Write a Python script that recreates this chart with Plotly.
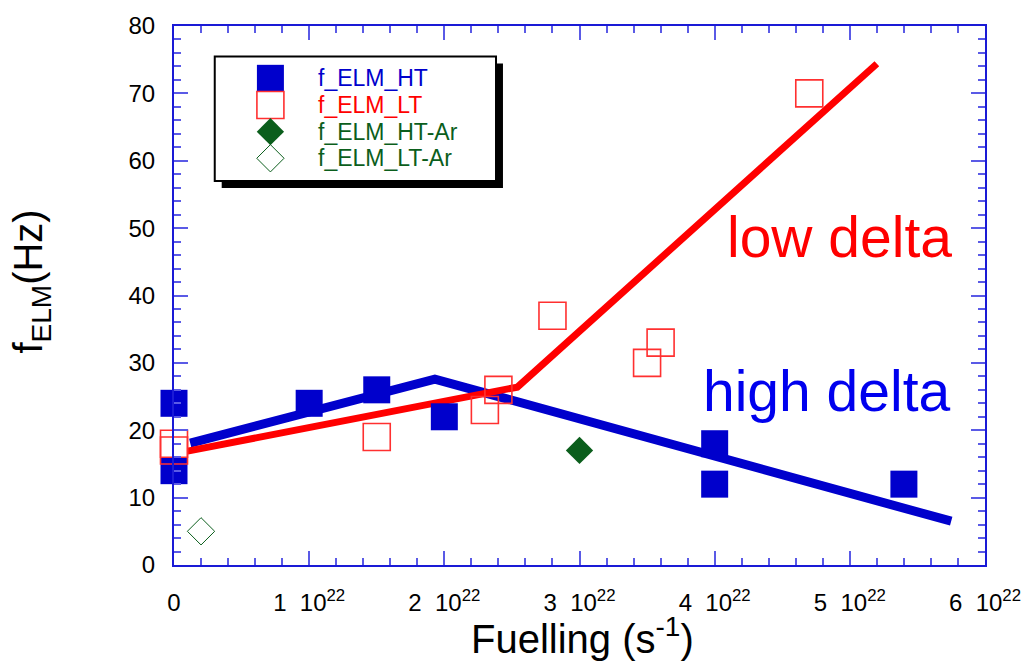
import plotly.graph_objects as go

# ELM frequency vs fuelling rate
ht_x = [0.0, 0.0, 1.0e22, 1.5e22, 2.0e22, 4.0e22, 4.0e22, 5.4e22]
ht_y = [24, 14, 24, 26, 22, 18, 12, 12]

lt_x = [0.0, 0.0, 1.5e22, 2.3e22, 2.4e22, 2.8e22, 3.5e22, 3.6e22, 4.7e22]
lt_y = [18, 17, 19, 23, 26, 37, 30, 33, 70]

ht_ar_x = [3.0e22]
ht_ar_y = [17]

lt_ar_x = [0.2e22]
lt_ar_y = [5]

# piecewise trend lines
fit_high_x = [0.12e22, 1.93e22, 5.75e22]
fit_high_y = [18.1, 27.6, 6.5]
fit_low_x = [0.1e22, 2.54e22, 5.2e22]
fit_low_y = [16.9, 26.4, 74.4]

x_tickvals = [0, 1e22, 2e22, 3e22, 4e22, 5e22, 6e22]
x_ticktext = ["0"] + [f"{k}\u00a0 10<sup>22</sup>" for k in range(1, 7)]

legend_names = ["f_ELM_HT", "f_ELM_LT", "f_ELM_HT-Ar", "f_ELM_LT-Ar"]

BLUE = "#0000cc"
RED = "#ff0000"
RED_OPEN = "#ff3030"
GREEN = "#0b5e1c"
AXIS = "#1a1ad6"
TICK = "#5a5ae6"
FONT = "Liberation Sans, Arial, sans-serif"

W, H = 1033, 663
L, R, T, B = 174, 43, 19, 98
PW, PH = W - L - R, H - T - B


def px(x):
    return (x - L) / PW


def py(y):
    return (H - B - y) / PH


fig = go.Figure()

fig.add_trace(go.Scatter(x=fit_high_x, y=fit_high_y, mode="lines",
                         line=dict(color=BLUE, width=9), showlegend=False))
fig.add_trace(go.Scatter(x=fit_low_x, y=fit_low_y, mode="lines",
                         line=dict(color=RED, width=7), showlegend=False))

marker_styles = [
    dict(symbol="square", size=27, color=BLUE, line=dict(width=0)),
    dict(symbol="square-open", size=27, color=RED_OPEN, line=dict(width=1.6)),
    dict(symbol="diamond", size=21, color=GREEN, line=dict(width=0)),
    dict(symbol="diamond-open", size=21, color=GREEN, line=dict(width=1)),
]
series = [(ht_x, ht_y), (lt_x, lt_y), (ht_ar_x, ht_ar_y), (lt_ar_x, lt_ar_y)]
for (sx, sy), mk, name in zip(series, marker_styles, legend_names):
    fig.add_trace(go.Scatter(x=sx, y=sy, mode="markers", marker=mk,
                             name=name, showlegend=False, cliponaxis=False))

# legend box drawn by hand (keys sit on an overlay axis in paper units)
box_l, box_t, box_r, box_b = 215, 50, 498, 176
shadow = 7
key_x = 271
text_x = 318
row_y = [72, 99, 126, 153]
text_colors = [BLUE, RED, GREEN, GREEN]

fig.add_shape(type="rect", xref="paper", yref="paper", layer="below",
              x0=px(box_l + shadow), x1=px(box_r + shadow),
              y0=py(box_b + shadow), y1=py(box_t + shadow),
              fillcolor="black", line=dict(width=0))
fig.add_shape(type="rect", xref="paper", yref="paper", layer="below",
              x0=px(box_l), x1=px(box_r), y0=py(box_b), y1=py(box_t),
              fillcolor="white", line=dict(color="black", width=2))

for mk, ry, name, col in zip(marker_styles, row_y, legend_names, text_colors):
    fig.add_trace(go.Scatter(x=[px(key_x)], y=[py(ry)], mode="markers",
                             marker=mk, xaxis="x2", yaxis="y2",
                             showlegend=False, hoverinfo="skip"))
    fig.add_annotation(xref="paper", yref="paper", x=px(text_x), y=py(ry),
                       xanchor="left", yanchor="middle", showarrow=False,
                       borderpad=0, text=name,
                       font=dict(family=FONT, size=23, color=col))

# region labels
fig.add_annotation(x=4.08e22, y=48.7, xanchor="left", yanchor="middle",
                   showarrow=False, text="low delta",
                   font=dict(family=FONT, size=57, color=RED))
fig.add_annotation(x=3.9e22, y=25.9, xanchor="left", yanchor="middle",
                   showarrow=False, text="high delta",
                   font=dict(family=FONT, size=57, color="#0000ee"))

# axis titles
fig.add_annotation(xref="paper", yref="paper", x=px(585), y=py(637),
                   xanchor="center", yanchor="middle", showarrow=False,
                   text="Fuelling (s<sup>-1</sup>)",
                   font=dict(family=FONT, size=40, color="black"))
fig.add_annotation(xref="paper", yref="paper", x=px(30), y=py(278),
                   xanchor="center", yanchor="middle", showarrow=False,
                   textangle=-90, text="f<sub>ELM</sub>(Hz)",
                   font=dict(family=FONT, size=40, color="black"))

axis_common = dict(showline=True, linecolor=AXIS, linewidth=2, mirror="ticks",
                   ticks="inside", ticklen=14, tickwidth=1.5, tickcolor=TICK,
                   showgrid=False, zeroline=False,
                   tickfont=dict(family=FONT, size=24, color="black"))

fig.update_layout(
    width=W, height=H,
    margin=dict(l=L, r=R, t=T, b=B),
    paper_bgcolor="white", plot_bgcolor="white",
    showlegend=False,
    xaxis=dict(range=[0, 6e22], tickmode="array", tickvals=x_tickvals,
               ticktext=x_ticktext, ticklabelstandoff=15,
               minor=dict(dtick=0.2e22, ticks="inside", ticklen=7,
                          tickwidth=1.5, tickcolor=TICK),
               **axis_common),
    yaxis=dict(range=[0, 80], dtick=10, ticklabelstandoff=12,
               minor=dict(dtick=2, ticks="inside", ticklen=7,
                          tickwidth=1.5, tickcolor=TICK),
               **axis_common),
    xaxis2=dict(overlaying="x", range=[0, 1], visible=False, fixedrange=True),
    yaxis2=dict(overlaying="y", range=[0, 1], visible=False, fixedrange=True),
)

fig.write_html("out.html")
